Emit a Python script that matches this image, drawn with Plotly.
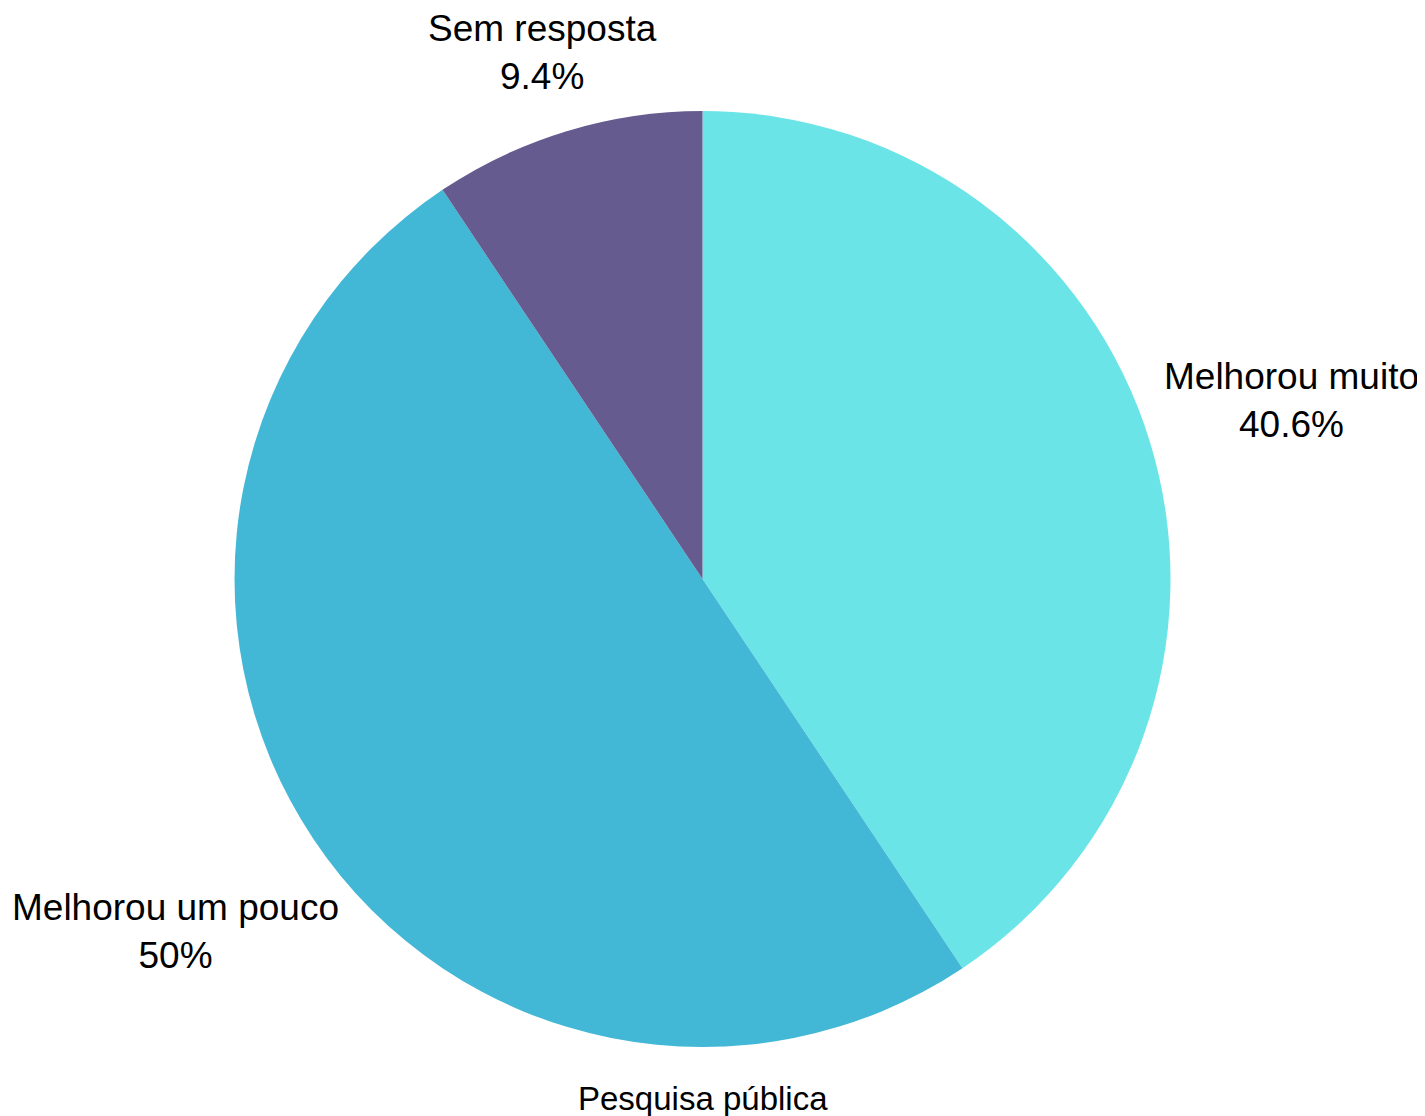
import math
import plotly.graph_objects as go

labels = ["Melhorou muito", "Melhorou um pouco", "Sem resposta"]
values = [13, 16, 3]
colors = ["#6BE4E8", "#43B7D6", "#655B8F"]
title_text = "Pesquisa pública"

W, H = 1417, 1108
ML, MR, MT, MB = 0, 28, 103, 69
FONT = "Liberation Sans, Arial, sans-serif"
LABEL_SIZE = 37

total = sum(values)
def fmt(v):
    s = f"{v / total * 100:.1f}"
    if s.endswith(".0"):
        s = s[:-2]
    return s + "%"

fig = go.Figure(go.Pie(
    labels=labels,
    values=values,
    textinfo="none",
    sort=False,
    direction="clockwise",
    rotation=0,
    marker=dict(colors=colors, line=dict(width=0)),
    showlegend=False,
    hoverinfo="label+percent",
))

# outside labels placed along each slice's mid-angle, just outside the pie
pw, ph = W - ML - MR, H - MT - MB
R = min(pw, ph) / 2
cum = 0
for lab, v in zip(labels, values):
    mid = (cum + v / 2) / total * 2 * math.pi
    cum += v
    ux, uy = math.sin(mid), math.cos(mid)  # uy positive = upwards
    hw = 0.5 * len(lab) * 0.517 * LABEL_SIZE
    hh = 0.5 * 2 * 1.2 * LABEL_SIZE
    dist = R + 6 + abs(hw * ux) + abs(hh * uy)
    px = pw / 2 + dist * ux
    py = ph / 2 + dist * uy
    fig.add_annotation(
        text=f"{lab}<br>{fmt(v)}", x=px / pw, y=py / ph, xref="paper", yref="paper",
        xanchor="center", yanchor="middle", showarrow=False, align="center",
        font=dict(family=FONT, size=LABEL_SIZE, color="#000000"),
    )

fig.add_annotation(
    text=title_text, x=0.5, y=0, xref="paper", yref="paper",
    xanchor="center", yanchor="middle", yshift=-51, showarrow=False,
    font=dict(family=FONT, size=33, color="#000000"),
)

fig.update_layout(
    width=W, height=H,
    margin=dict(l=ML, r=MR, t=MT, b=MB),
    paper_bgcolor="#FFFFFF", plot_bgcolor="#FFFFFF",
)

fig.write_html("out.html")
